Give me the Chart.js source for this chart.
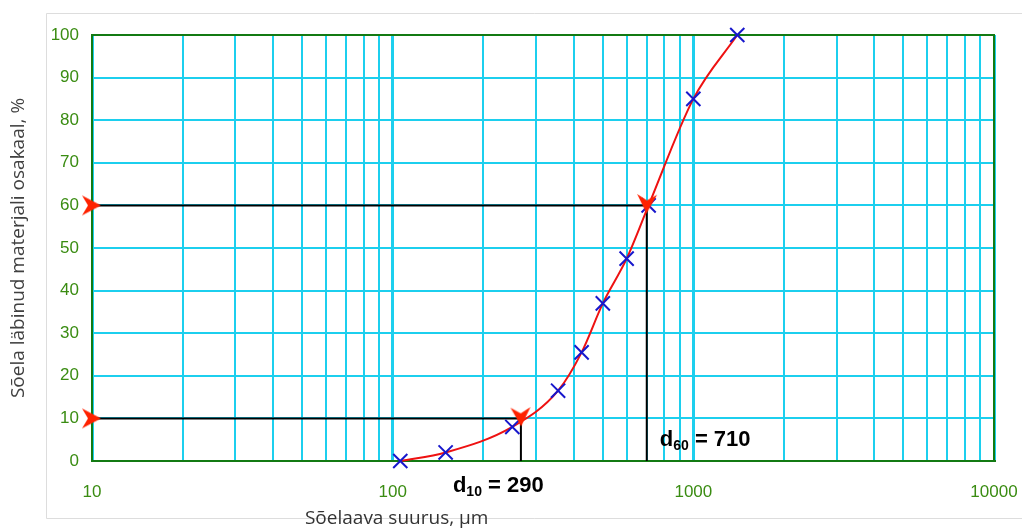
<!DOCTYPE html>
<html>
<head>
<meta charset="utf-8">
<script src="https://cdn.jsdelivr.net/npm/chart.js@4.4.1/dist/chart.umd.min.js"></script>
<style>
  html, body { margin: 0; padding: 0; background: #fff; }
  #wrap { width: 1022px; height: 530px; }
</style>
</head>
<body>
<div id="wrap"><canvas id="sieveChart" width="1022" height="530"></canvas></div>
<script>
// sieve analysis: passing % vs sieve opening (log scale)
const sieveSizes = [106, 150, 250, 355, 425, 500, 600, 710, 1000, 1400];
const passing = [0, 2, 8, 16.5, 25.5, 37, 47.5, 60, 85, 100];

const xDecades = [10, 100, 1000, 10000];
const yTicks = [0, 10, 20, 30, 40, 50, 60, 70, 80, 90, 100];

// d10 / d60 guide lines (position as drawn, label as written)
const guidePct = [10, 60];
const guideSize = [267, 700];
const guideSub = ["10", "60"];
const guideValue = ["290", "710"];

const yTitle = "Sõela läbinud materjali osakaal, %";
const xTitle = "Sõelaava suurus, µm";

const GREEN = "#137a13";
const LABEL_GREEN = "#3a8c12";
const CYAN = "#1ccfee";

// minor log grid 10,20..90,100,200..
const xGrid = [];
xDecades.slice(0, -1).forEach(d => {
  for (let m = 1; m <= 9; m++) xGrid.push(d * m);
});
xGrid.push(xDecades[xDecades.length - 1]);

function makeArrow(tipOffset) {
  const c = document.createElement("canvas");
  c.width = 44; c.height = 44;
  const g = c.getContext("2d");
  const cx = 22 + tipOffset, cy = 22;
  g.fillStyle = "#ff2200";
  g.beginPath();
  g.moveTo(cx, cy);
  g.lineTo(cx - 19, cy - 10);
  g.lineTo(cx - 13, cy);
  g.lineTo(cx - 19, cy + 10);
  g.closePath();
  g.fill();
  return c;
}
const axisArrow = makeArrow(9);
const curveArrow = makeArrow(8);

const arrowPts = [
  { x: xDecades[0], y: guidePct[0] },
  { x: xDecades[0], y: guidePct[1] },
  { x: guideSize[0], y: guidePct[0] },
  { x: guideSize[1], y: guidePct[1] }
];

const guideSets = guidePct.map((p, i) => ({
  data: [
    { x: xDecades[0], y: p },
    { x: guideSize[i], y: p },
    { x: guideSize[i], y: 0 }
  ],
  showLine: true,
  borderColor: "#000",
  borderWidth: 2,
  pointRadius: 0,
  tension: 0,
  order: 2
}));

function drawDLabel(ctx, x, y, sub, val) {
  ctx.fillStyle = "#000";
  ctx.textAlign = "left";
  ctx.textBaseline = "alphabetic";
  ctx.font = "bold 22px 'Liberation Sans', Arial, sans-serif";
  ctx.fillText("d", x, y);
  let w = ctx.measureText("d").width;
  ctx.font = "bold 14px 'Liberation Sans', Arial, sans-serif";
  ctx.fillText(sub, x + w, y + 4);
  w += ctx.measureText(sub).width;
  ctx.font = "bold 22px 'Liberation Sans', Arial, sans-serif";
  ctx.fillText(" = " + val, x + w, y);
}

const overlay = {
  id: "overlay",
  beforeDraw(chart) {
    const c = chart.ctx;
    c.save();
    c.fillStyle = "#fff";
    c.fillRect(0, 0, chart.width, chart.height);
    c.strokeStyle = "#dddddd";
    c.lineWidth = 1;
    c.beginPath();
    c.moveTo(chart.width, 13.5);
    c.lineTo(46.5, 13.5);
    c.lineTo(46.5, 518.5);
    c.lineTo(chart.width, 518.5);
    c.stroke();
    c.restore();
  },
  beforeDatasetsDraw(chart) {
    const { ctx, chartArea: a } = chart;
    ctx.save();
    ctx.strokeStyle = GREEN;
    ctx.lineWidth = 2;
    ctx.strokeRect(a.left, a.top, a.right - a.left, a.bottom - a.top);
    ctx.restore();
  },
  afterDatasetsDraw(chart) {
    const { ctx, scales } = chart;
    const xs = scales.x, ys = scales.y;
    ctx.save();
    const x10 = xs.getPixelForValue(guideSize[0]);
    drawDLabel(ctx, x10 - 68, ys.getPixelForValue(0) + 31, guideSub[0], guideValue[0]);
    const x60 = xs.getPixelForValue(guideSize[1]);
    drawDLabel(ctx, x60 + 13, ys.getPixelForValue(0) - 15, guideSub[1], guideValue[1]);

    ctx.font = "19px 'Open Sans', sans-serif";
    ctx.fillStyle = "#333";
    ctx.textAlign = "center";
    ctx.fillText(xTitle, xs.getPixelForValue(xDecades[1]) + 4, 524);
    ctx.restore();
  }
};

const ctx = document.getElementById("sieveChart").getContext("2d");
new Chart(ctx, {
  type: "scatter",
  data: {
    datasets: [
      {
        data: arrowPts,
        pointStyle: [axisArrow, axisArrow, curveArrow, curveArrow],
        pointRotation: [0, 0, 88, 92],
        pointRadius: 12,
        showLine: false,
        clip: false,
        order: 0
      },
      {
        data: sieveSizes.map((s, i) => ({ x: s, y: passing[i] })),
        showLine: true,
        borderColor: "#ee1111",
        borderWidth: 2,
        cubicInterpolationMode: "monotone",
        pointStyle: "crossRot",
        pointRadius: 10,
        pointBorderColor: "#1717cc",
        pointBorderWidth: 2,
        clip: false,
        order: 1
      },
      ...guideSets
    ]
  },
  options: {
    responsive: false,
    animation: false,
    layout: { padding: { top: 35, right: 28, left: 0, bottom: 0 } },
    plugins: {
      legend: { display: false },
      tooltip: { enabled: false }
    },
    scales: {
      x: {
        type: "logarithmic",
        min: xDecades[0],
        max: xDecades[xDecades.length - 1],
        afterBuildTicks: s => {
          s.ticks = xGrid.map(v => ({ value: v, major: xDecades.includes(v) }));
        },
        afterFit: s => {
          s.height = 69;
          s.paddingLeft = 0;
          s.paddingRight = 0;
        },
        grid: {
          color: CYAN,
          lineWidth: c => (c.tick && xDecades.includes(c.tick.value) ? 3 : 2),
          drawTicks: false
        },
        border: { color: GREEN, width: 2 },
        ticks: {
          autoSkip: false,
          maxRotation: 0,
          padding: 21,
          color: LABEL_GREEN,
          font: { family: "'Liberation Sans', Arial, sans-serif", size: 17 },
          callback: v => (xDecades.includes(v) ? String(v) : "")
        }
      },
      y: {
        min: yTicks[0],
        max: yTicks[yTicks.length - 1],
        afterBuildTicks: s => {
          s.ticks = yTicks.map(v => ({ value: v }));
        },
        afterFit: s => { s.width = 92; },
        grid: { color: CYAN, lineWidth: 2, drawTicks: false },
        border: { color: GREEN, width: 2 },
        ticks: {
          padding: 13,
          color: LABEL_GREEN,
          font: { family: "'Liberation Sans', Arial, sans-serif", size: 17 }
        },
        title: {
          display: true,
          text: yTitle,
          color: "#404040",
          padding: { top: 7, bottom: 0 },
          font: { family: "'Open Sans', sans-serif", size: 19, weight: "normal" }
        }
      }
    }
  },
  plugins: [overlay]
});
</script>
</body>
</html>
